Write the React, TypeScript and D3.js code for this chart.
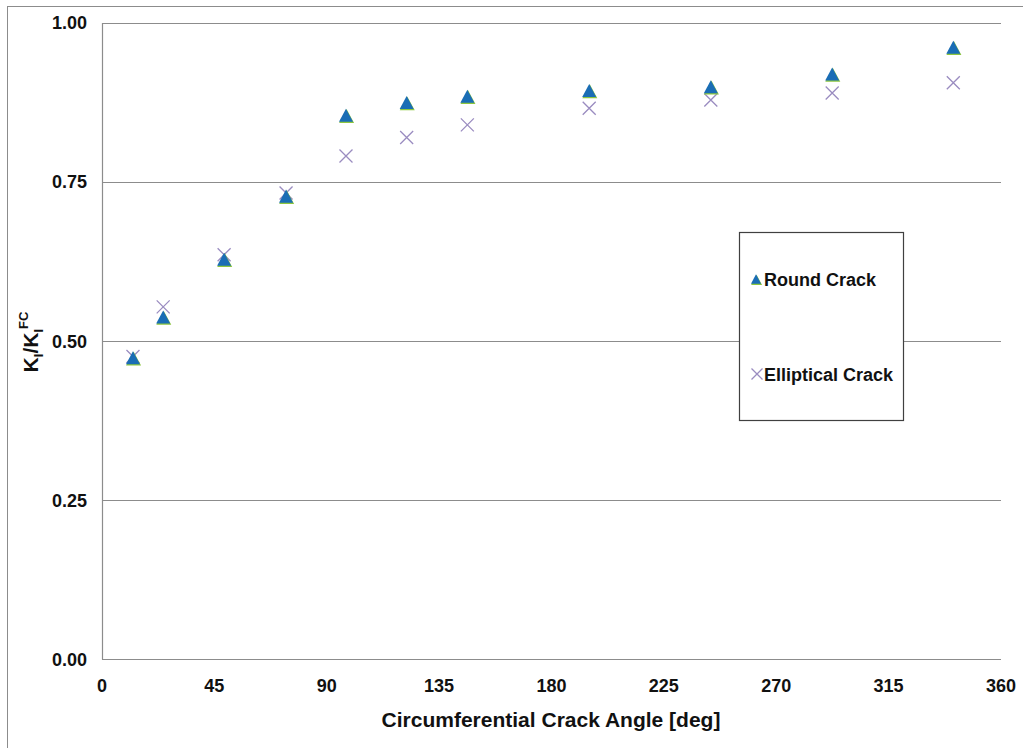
import React from "react";
import * as d3 from "d3";

// Crack angle [deg] for each case
const angles = [12.4, 24.5, 48.9, 73.7, 97.7, 122.0, 146.3, 195.1, 243.8, 292.4, 340.9];
// Normalised stress intensity factor K_I / K_I^FC
const roundCrack = [0.474, 0.538, 0.629, 0.728, 0.855, 0.875, 0.885, 0.894, 0.900, 0.920, 0.962];
const ellipticalCrack = [0.476, 0.554, 0.636, 0.733, 0.791, 0.820, 0.840, 0.866, 0.879, 0.890, 0.906];

const xTicks = [0, 45, 90, 135, 180, 225, 270, 315, 360];
const yTicks = [0, 0.25, 0.5, 0.75, 1.0];

const W = 1023;
const H = 748;
const plot = { left: 102, right: 1001, top: 23, bottom: 659.5 };

const FONT = "'Liberation Sans', Arial, sans-serif";
const BLUE = "#1a6db5";
const GREEN = "#8dc63f";
const PURPLE = "#9a8cc0";
const GRID = "#8c8c8c";

const triPath = (s: number) => {
  const h = s * 0.93;
  return `M0,${-h / 2}L${s / 2},${h / 2}L${-s / 2},${h / 2}Z`;
};

function Triangle({ x, y, size = 14 }: { x: number; y: number; size?: number }) {
  return (
    <g>
      <path d={triPath(size + 1)} transform={`translate(${x + 0.6},${y + 0.8})`} fill={GREEN} />
      <path d={triPath(size)} transform={`translate(${x},${y})`} fill={BLUE} />
    </g>
  );
}

function Cross({ x, y, r = 6.5 }: { x: number; y: number; r?: number }) {
  return (
    <path
      d={`M${x - r},${y - r}L${x + r},${y + r}M${x - r},${y + r}L${x + r},${y - r}`}
      stroke={PURPLE}
      strokeWidth={1.3}
      fill="none"
    />
  );
}

export default function App() {
  const x = d3.scaleLinear().domain([0, 360]).range([plot.left, plot.right]);
  const y = d3.scaleLinear().domain([0, 1]).range([plot.bottom, plot.top]);

  return (
    <svg
      width={W}
      height={H}
      style={{ position: "absolute", left: 0, top: 0, background: "#fff" }}
      fontFamily={FONT}
    >
      <rect x={0} y={0} width={W} height={H} fill="#fff" />
      {/* outer chart frame */}
      <rect x={7.5} y={6.5} width={W + 10} height={H + 10} fill="none" stroke={GRID} strokeWidth={1} />

      {/* horizontal gridlines */}
      {yTicks.slice(1).map((t) => (
        <line
          key={t}
          x1={plot.left}
          x2={plot.right}
          y1={Math.round(y(t)) + 0.5}
          y2={Math.round(y(t)) + 0.5}
          stroke={GRID}
          strokeWidth={1.2}
        />
      ))}
      {/* axes */}
      <line x1={plot.left + 0.5} x2={plot.left + 0.5} y1={plot.top} y2={plot.bottom} stroke={GRID} strokeWidth={1.2} />
      <line x1={plot.left} x2={plot.right} y1={plot.bottom} y2={plot.bottom} stroke={GRID} strokeWidth={1.2} />

      {/* y tick labels */}
      {yTicks.map((t) => (
        <text
          key={t}
          x={87}
          y={y(t)}
          dy="0.35em"
          textAnchor="end"
          fontSize={18}
          fontWeight="bold"
          fill="#111"
        >
          {d3.format(".2f")(t)}
        </text>
      ))}
      {/* x tick labels */}
      {xTicks.map((t) => (
        <text
          key={t}
          x={x(t)}
          y={686}
          dy="0.35em"
          textAnchor="middle"
          fontSize={18}
          fontWeight="bold"
          fill="#111"
        >
          {t}
        </text>
      ))}

      {/* axis titles */}
      <text x={551} y={720} dy="0.35em" textAnchor="middle" fontSize={21} fontWeight="bold" fill="#111">
        Circumferential Crack Angle [deg]
      </text>
      <text
        transform={`translate(38,342) rotate(-90)`}
        textAnchor="middle"
        fontSize={21}
        fontWeight="bold"
        fill="#111"
      >
        K<tspan fontSize={13} dy={5}>I</tspan>
        <tspan dy={-5}>/K</tspan>
        <tspan fontSize={13} dy={5}>I</tspan>
        <tspan fontSize={13} dy={-15}>FC</tspan>
      </text>

      {/* data */}
      {angles.map((a, i) => (
        <Cross key={`e${i}`} x={x(a)} y={y(ellipticalCrack[i])} />
      ))}
      {angles.map((a, i) => (
        <Triangle key={`r${i}`} x={x(a)} y={y(roundCrack[i])} />
      ))}

      {/* legend */}
      <rect x={739.5} y={232.5} width={164} height={188} fill="#fff" stroke="#404040" strokeWidth={1.2} />
      <Triangle x={756} y={279} size={10} />
      <text x={764} y={280} dy="0.35em" fontSize={18} fontWeight="bold" fill="#111">
        Round Crack
      </text>
      <Cross x={757} y={374} r={5.5} />
      <text x={764} y={375} dy="0.35em" fontSize={18} fontWeight="bold" fill="#111">
        Elliptical Crack
      </text>
    </svg>
  );
}
